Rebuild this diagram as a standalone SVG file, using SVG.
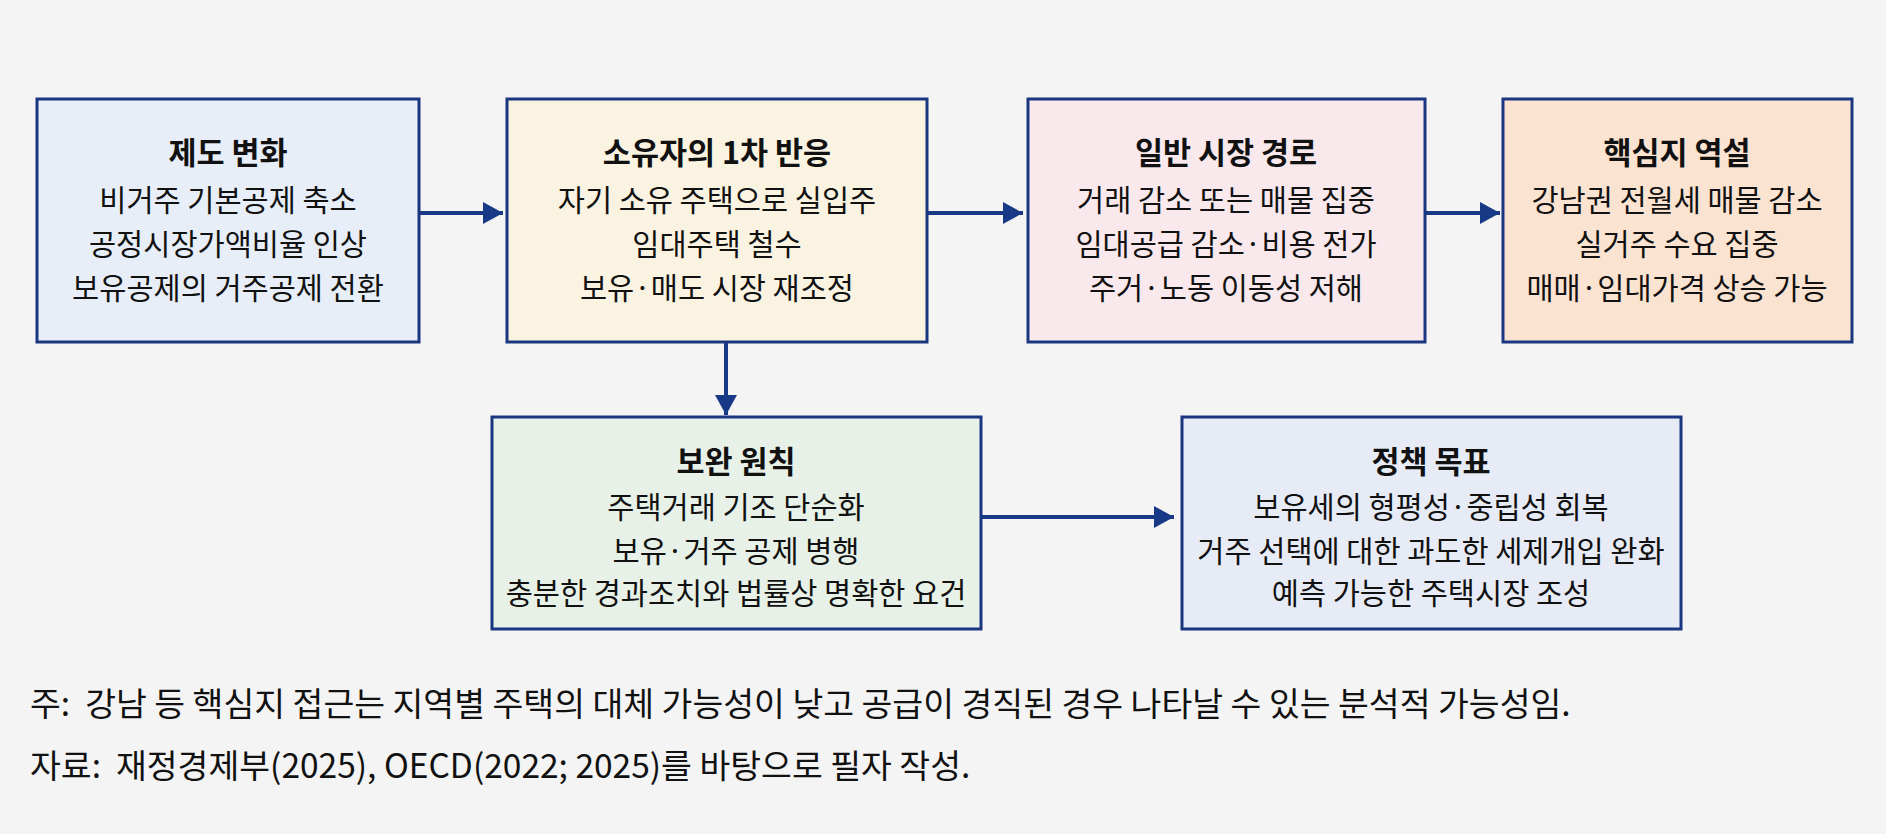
<svg xmlns="http://www.w3.org/2000/svg" width="1886" height="834" viewBox="0 0 1886 834">
<defs>
<marker id="ah" markerUnits="userSpaceOnUse" markerWidth="22" markerHeight="24" refX="20" refY="11" orient="auto">
<path d="M0,0 L20,11 L0,22 Z" fill="#183a86"/>
</marker>
</defs>
<style>
.box{stroke:#1b3680;stroke-width:3}
.t{font-family:"Noto Sans CJK KR","Noto Sans",sans-serif;font-size:30.5px;font-weight:700;fill:#111;text-anchor:middle}
.l{font-family:"Noto Sans CJK KR","Noto Sans",sans-serif;font-size:29.5px;fill:#111;text-anchor:middle}
.f{font-family:"Noto Sans CJK KR","Noto Sans",sans-serif;font-size:33.5px;fill:#111}
.c{stroke:#183a86;stroke-width:4;fill:none;marker-end:url(#ah)}
</style>
<rect width="1886" height="834" fill="#f4f4f4"/>
<g id="connectors">
<line class="c" x1="419" y1="213" x2="503" y2="213"/>
<line class="c" x1="927" y1="213" x2="1023" y2="213"/>
<line class="c" x1="1425" y1="213" x2="1500" y2="213"/>
<line class="c" x1="726" y1="342" x2="726" y2="415"/>
<line class="c" x1="981" y1="517" x2="1174" y2="517"/>
</g>
<g id="n1">
<rect class="box" x="37" y="99" width="382" height="243" fill="#e7eef8"/>
<text class="t" x="228" y="164">제도 변화</text>
<text class="l" x="228" y="211">비거주 기본공제 축소</text>
<text class="l" x="228" y="255">공정시장가액비율 인상</text>
<text class="l" x="228" y="299">보유공제의 거주공제 전환</text>
</g>
<g id="n2">
<rect class="box" x="507" y="99" width="420" height="243" fill="#faf3e1"/>
<text class="t" x="717" y="164">소유자의 1차 반응</text>
<text class="l" x="717" y="211">자기 소유 주택으로 실입주</text>
<text class="l" x="717" y="255">임대주택 철수</text>
<text class="l" x="717" y="299">보유·매도 시장 재조정</text>
</g>
<g id="n3">
<rect class="box" x="1028" y="99" width="397" height="243" fill="#f9e9ed"/>
<text class="t" x="1226" y="164">일반 시장 경로</text>
<text class="l" x="1226" y="211">거래 감소 또는 매물 집중</text>
<text class="l" x="1226" y="255">임대공급 감소·비용 전가</text>
<text class="l" x="1226" y="299">주거·노동 이동성 저해</text>
</g>
<g id="n4">
<rect class="box" x="1503" y="99" width="349" height="243" fill="#fbe3d2"/>
<text class="t" x="1677" y="164">핵심지 역설</text>
<text class="l" x="1677" y="211">강남권 전월세 매물 감소</text>
<text class="l" x="1677" y="255">실거주 수요 집중</text>
<text class="l" x="1677" y="299">매매·임대가격 상승 가능</text>
</g>
<g id="n5">
<rect class="box" x="492" y="417" width="489" height="212" fill="#e7f1e7"/>
<text class="t" x="736" y="473">보완 원칙</text>
<text class="l" x="736" y="518">주택거래 기조 단순화</text>
<text class="l" x="736" y="562">보유·거주 공제 병행</text>
<text class="l" x="736" y="604">충분한 경과조치와 법률상 명확한 요건</text>
</g>
<g id="n6">
<rect class="box" x="1182" y="417" width="499" height="212" fill="#e7ebf6"/>
<text class="t" x="1431" y="473">정책 목표</text>
<text class="l" x="1431" y="518">보유세의 형평성·중립성 회복</text>
<text class="l" x="1431" y="562">거주 선택에 대한 과도한 세제개입 완화</text>
<text class="l" x="1431" y="604">예측 가능한 주택시장 조성</text>
</g>
<g id="notes">
<text class="f" x="30" y="716" xml:space="preserve">주:  강남 등 핵심지 접근는 지역별 주택의 대체 가능성이 낮고 공급이 경직된 경우 나타날 수 있는 분석적 가능성임.</text>
<text class="f" x="30" y="778" xml:space="preserve">자료:  재정경제부(2025), OECD(2022; 2025)를 바탕으로 필자 작성.</text>
</g>
</svg>
